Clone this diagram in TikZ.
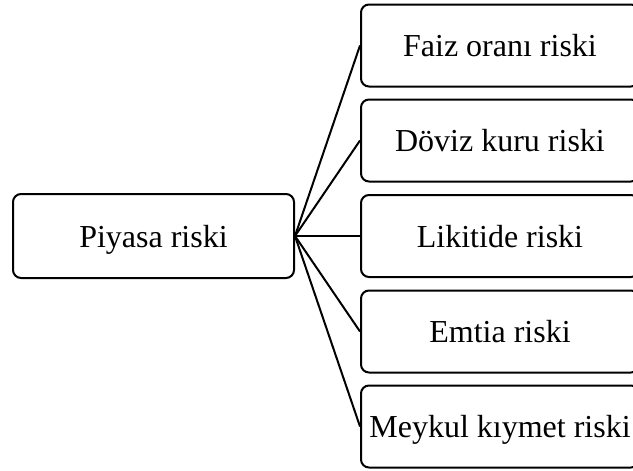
\documentclass[tikz,border=0pt]{standalone}
\usepackage{fontspec}
\setmainfont{Liberation Serif}
\begin{document}
\begin{tikzpicture}[x=1pt,y=-1pt,
  riskbox/.style={draw, line width=2pt, rounded corners=8pt, inner sep=0pt,
    font=\fontsize{32}{37}\selectfont, text depth=0pt, align=center},
  mainbox/.style={riskbox, minimum width=281pt, minimum height=84pt},
  subbox/.style={riskbox, minimum width=278pt, minimum height=82pt},
  link/.style={line width=2pt}]
\useasboundingbox (0,0) rectangle (633,471);
\clip (0,0) rectangle (633,471);
\node[mainbox] (piyasa) at (153.5,236) {Piyasa riski};
\node[subbox] (faiz)   at (500,45.5)  {Faiz oranı riski};
\node[subbox] (doviz)  at (500,140.5) {Döviz kuru riski};
\node[subbox] (likit)  at (500,236)   {Likitide riski};
\node[subbox] (emtia)  at (500,331.5) {Emtia riski};
\node[subbox] (menkul) at (500,426.5) {Meykul kıymet riski};
\foreach \t in {faiz,doviz,likit,emtia,menkul}
  \draw[link] (piyasa.east) -- (\t.west);
\end{tikzpicture}
\end{document}
